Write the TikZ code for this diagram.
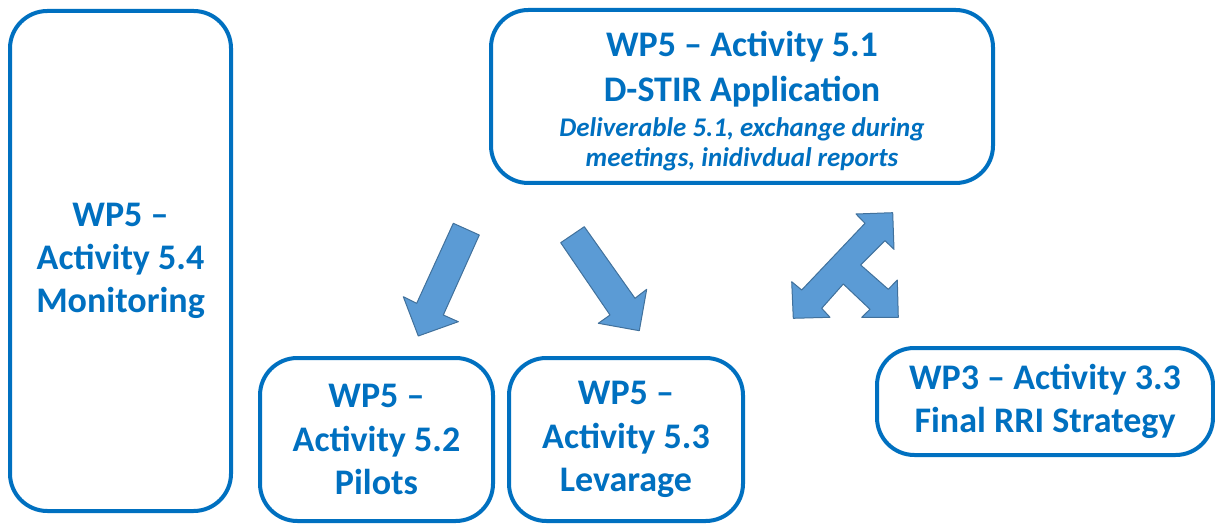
\documentclass[tikz,border=0pt]{standalone}
\usepackage{fontspec}
\setmainfont{Carlito}

\definecolor{wpblue}{RGB}{0,112,192}
\definecolor{arrowfill}{RGB}{91,155,213}
\definecolor{arrowline}{RGB}{65,113,156}

\newcommand{\delivfont}{\itshape\fontsize{20.2}{22.5}\selectfont}

\tikzset{every picture/.style={line width=0.75pt}}
\tikzset{
	actbox/.style={draw=wpblue, line width=3pt, rounded corners=28pt, fill=white, align=center, text=wpblue, inner sep=0pt, font=\bfseries\fontsize{27}{32.5}\selectfont},
	blockarrow/.style={fill=arrowfill, draw=arrowline, line width=0.75pt, line join=round}
}

\begin{document}
\begin{tikzpicture}[x=0.75pt,y=0.75pt,yscale=-1,xscale=1]
		\useasboundingbox (0,0) rectangle (1215,524); %set diagram to 1215 x 524
		
		%Rounded Rect [id:act54] 
		\node [actbox, minimum width=165.75pt, minimum height=375pt] (act54) at (120.5,261) {WP5 –\\Activity 5.4\\Monitoring};
		%Rounded Rect [id:act51] 
		\node [actbox, minimum width=376.5pt, minimum height=129.75pt] (act51) at (742,96.5) {};
		%Rounded Rect [id:act52] 
		\node [actbox, minimum width=174.75pt, minimum height=122.25pt] (act52) at (376.5,439.5) {WP5 –\\Activity 5.2\\Pilots};
		%Rounded Rect [id:act53] 
		\node [actbox, minimum width=175.5pt, minimum height=122.25pt] (act53) at (626,439.5) {WP5 –\\Activity 5.3\\Levarage};
		%Rounded Rect [id:act33] 
		\node [actbox, minimum width=252pt, minimum height=80.25pt] (act33) at (1045,401.5) {WP3 – Activity 3.3\\Final RRI Strategy};
		
		% Text Node
		\node [actbox, draw=none, fill=none, font=\bfseries\fontsize{27}{33.75}\selectfont] (act51text) at (742,101.5) {WP5 – Activity 5.1\\D-STIR Application\\[-7.5pt]{\delivfont Deliverable 5.1, exchange during}\\[-11.25pt]{\delivfont meetings, inidivdual reports}};
		
		%Down Left Arrow [id:arr52] 
		\draw [blockarrow] (453.3,223.3) -- (479.3,235) -- (443.3,315) -- (458.3,321.7) -- (418.3,336) -- (403.3,296.7) -- (416.7,303.3) -- cycle ;
		%Down Right Arrow [id:arr53] 
		\draw [blockarrow] (560.7,242.7) -- (584.3,226.7) -- (635,298.3) -- (646.7,289.3) -- (639.3,330.7) -- (598.3,323.3) -- (610,315) -- cycle ;
		%Left-Right-Up Arrow [id:arr33] 
		\draw [blockarrow] (892.7,212.7) -- (894,249.3) -- (885,240.7) -- (860.7,265) -- (888.3,289.3) -- (897.3,280) -- (898.3,317.3) -- (861.7,317.3) -- (870,309.3) -- (843.3,284) -- (821.7,308.3) -- (830,317.3) -- (793.3,318.3) -- (791.7,281.7) -- (801.7,290) -- (865,223.3) -- (856,214) -- cycle ;
		
\end{tikzpicture}
\end{document}
